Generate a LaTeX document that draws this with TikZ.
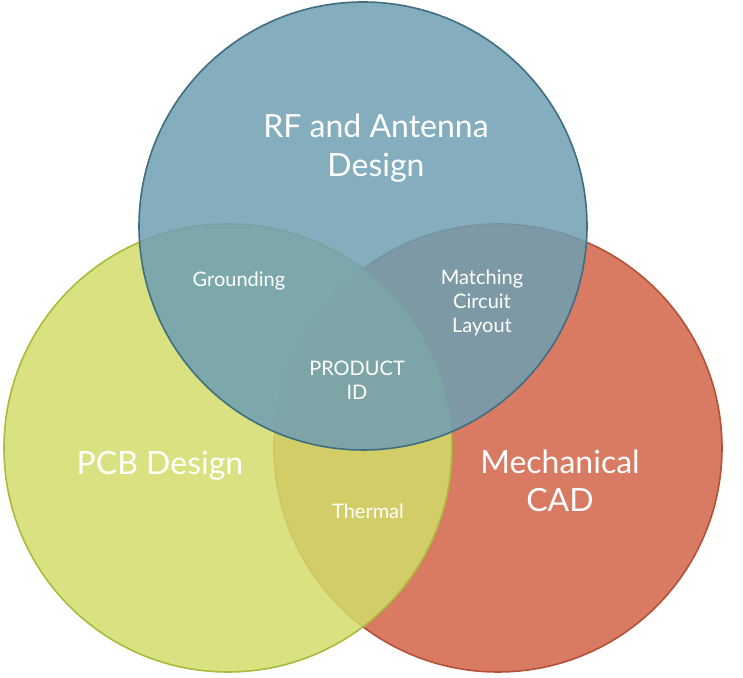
\documentclass[tikz,border=0pt]{standalone}
\usepackage{fontspec}
\setmainfont{Lato}
\usetikzlibrary{positioning}
\definecolor{rfblue}{HTML}{6E9FB3}
\definecolor{rfedge}{HTML}{3F6E80}
\definecolor{pcbgreen}{HTML}{D2DC6A}
\definecolor{pcbedge}{HTML}{A9BA3C}
\definecolor{cadred}{HTML}{D97A62}
\definecolor{cadedge}{HTML}{B5503A}
\tikzset{
    area/.style={circle, minimum size=336pt, inner sep=0pt, line width=1.2pt},
    bigtext/.style={text=white, font=\fontsize{24}{29}\selectfont, align=center},
    smalltext/.style={text=white, font=\fontsize{15}{18}\selectfont, align=center}
}
\begin{document}
\begin{tikzpicture}[x=0.75pt,y=0.75pt]
    \useasboundingbox (0,0) rectangle (743,678);
    \node[area, draw=cadedge, fill=cadred] (cad) at (498,230) {};
    \node[area, draw=pcbedge, fill=pcbgreen, fill opacity=0.85] (pcb) at (228,230) {};
    \node[area, draw=rfedge, fill=rfblue, fill opacity=0.85] (rf) at (363,452) {};
    % labels
    \node[bigtext] (rflabel) at (376,530) {RF and Antenna\\Design};
    \node[bigtext] (pcblabel) at (160,212) {PCB Design};
    \node[bigtext] (cadlabel) at (560,197) {Mechanical\\CAD};
    \node[smalltext] (ground) at (239,397) {Grounding};
    \node[smalltext] (match) at (482,375) {Matching\\Circuit\\Layout};
    \node[smalltext] (prod) at (357,298) {PRODUCT\\ID};
    \node[smalltext] (thermal) at (368,167) {Thermal};
\end{tikzpicture}
\end{document}
